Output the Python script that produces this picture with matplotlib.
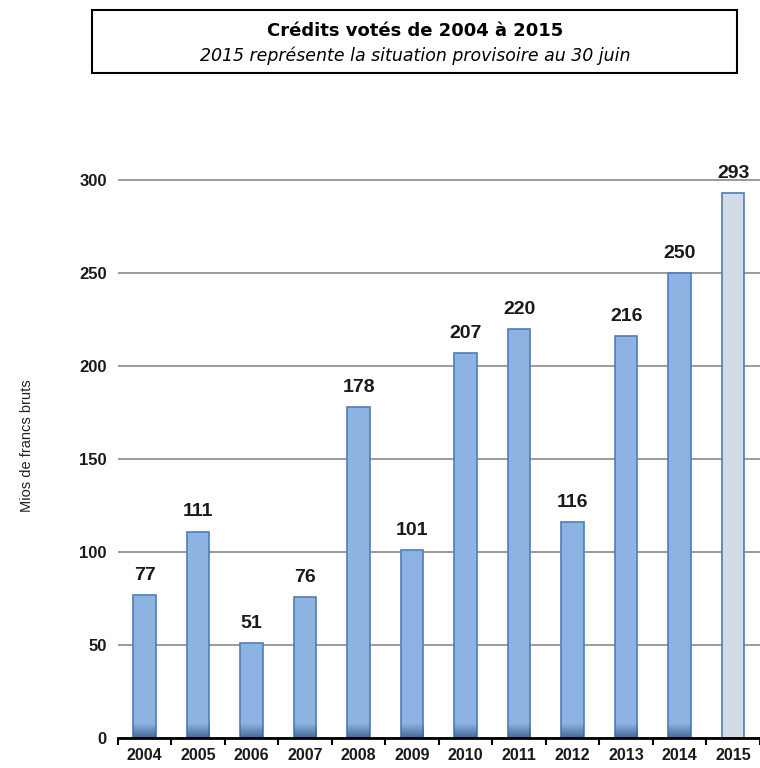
import numpy as np
import matplotlib.pyplot as plt
from matplotlib.patches import Rectangle
from matplotlib.colors import LinearSegmentedColormap

years = ['2004', '2005', '2006', '2007', '2008', '2009', '2010', '2011', '2012', '2013', '2014', '2015']
credits = [77, 111, 51, 76, 178, 101, 207, 220, 116, 216, 250, 293]
yticks = [0, 50, 100, 150, 200, 250, 300]

plt.rcParams['font.family'] = ['Liberation Sans', 'DejaVu Sans']

fig = plt.figure(figsize=(7.6, 7.68), dpi=100)
ax = fig.add_axes([0.155, 0.039, 0.845, 0.763])

x = np.arange(len(years))
colors = ['#8DB3E2'] * (len(years) - 1) + ['#D3DBE6']
bars = ax.bar(x, credits, width=0.42, color=colors, edgecolor='#4F7DB8', linewidth=1.2, zorder=3)

# darker shading at the foot of the blue bars
shade = LinearSegmentedColormap.from_list('shade', [(0.2, 0.35, 0.55, 0.0), (0.2, 0.33, 0.5, 0.8)])
grad = np.linspace(0, 1, 50).reshape(-1, 1)
for b in bars[:-1]:
    im = ax.imshow(grad, cmap=shade, aspect='auto', origin='upper', zorder=3.5,
                   extent=[b.get_x(), b.get_x() + b.get_width(), 0, 8])
    im.set_clip_path(b)

for xi, v in zip(x, credits):
    ax.annotate(str(v), (xi, v), xytext=(0, 8), textcoords='offset points',
                ha='center', va='bottom', fontsize=14, fontweight='bold', color='#1a1a1a')

ax.set_xlim(-0.5, len(years) - 0.5)
ax.set_ylim(0, 315)
ax.set_yticks(yticks)
ax.set_yticklabels([str(t) for t in yticks], fontsize=12, fontweight='bold', color='#1a1a1a')
ax.yaxis.grid(True, color='#8a8a8a', linewidth=1.2, zorder=0)
ax.tick_params(axis='y', length=0, pad=8)

ax.set_xticks(x)
ax.set_xticklabels(years, fontsize=11.5, fontweight='bold', color='#1a1a1a')
ax.set_xticks(np.arange(-0.5, len(years), 1), minor=True)
ax.tick_params(axis='x', which='major', length=0, pad=7)
ax.tick_params(axis='x', which='minor', length=5, width=1.5, direction='out')

for s in ['top', 'right', 'left']:
    ax.spines[s].set_visible(False)
ax.spines['bottom'].set_linewidth(2)
ax.spines['bottom'].set_zorder(4)

fig.text(0.035, 0.42, 'Mios de francs bruts', rotation=90, ha='center', va='center', fontsize=10.5, color='#222222')

fig.add_artist(Rectangle((92 / 760, 1 - 73 / 768), (737 - 92) / 760, (73 - 10) / 768,
                         transform=fig.transFigure, fill=False, edgecolor='black', linewidth=1.5))
fig.text(0.546, 1 - 31 / 768, 'Crédits votés de 2004 à 2015', ha='center', va='center',
         fontsize=13, fontweight='bold', family=['DejaVu Sans'])
fig.text(0.546, 1 - 56 / 768, '2015 représente la situation provisoire au 30 juin', ha='center', va='center',
         fontsize=12.5, style='italic', family=['DejaVu Sans'])

fig.savefig('out.png', dpi=100)
